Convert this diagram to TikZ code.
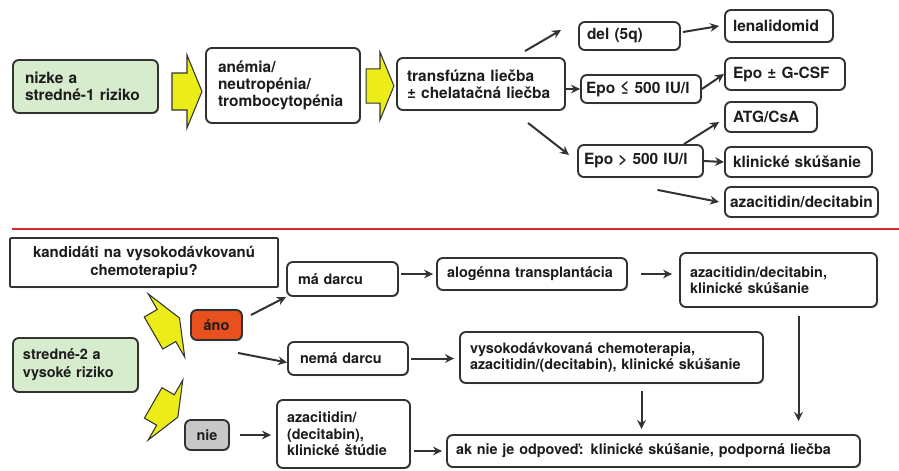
\documentclass[tikz,border=0pt]{standalone}
\usepackage{fontspec}
\setmainfont{Liberation Sans}
\newfontfamily\boxfont{texgyreheros-bold.otf}
\usetikzlibrary{arrows.meta,shadows}
\definecolor{riskgreen}{RGB}{214,236,205}
\definecolor{framegray}{RGB}{50,50,50}
\definecolor{textgray}{RGB}{28,28,28}
\definecolor{yesorange}{RGB}{232,80,30}
\definecolor{nogray}{RGB}{200,200,200}
\definecolor{splitred}{RGB}{212,42,42}
\definecolor{arrowyellow}{RGB}{236,236,24}
\newlength\pu
\setlength\pu{0.03cm}
\newcommand{\yarrow}[4]{%
  \filldraw[fill=arrowyellow, draw=framegray, line width=0.9pt, line join=miter,
    shift={(#1,#2)}, rotate=#3, scale=#4]
    (-15,-18.5) -- (0,-18.5) -- (0,-36.5) -- (15,0) -- (0,36.5) -- (0,18.5) -- (-15,18.5) -- cycle;}

\begin{document}
\begin{tikzpicture}[x=1\pu, y=-1\pu, every node/.style={font=\boxfont\fontsize{13.2}{14.5}\selectfont, text=textgray}]
  \tikzstyle{box}=[draw=framegray, line width=1.6pt, rounded corners=5pt, fill=white, align=left,
    inner xsep=8\pu, inner ysep=0pt, drop shadow={shadow xshift=1pt, shadow yshift=-1pt, opacity=0.35}]
  \tikzstyle{bbox}=[box, font=\boxfont\fontsize{12.3}{14}\selectfont]
  \tikzstyle{arr}=[-{Stealth[length=2.7mm, width=2.6mm]}, line width=1.7pt, draw=framegray]
  \useasboundingbox (0,0) rectangle (899,470);

  \node[box, fill=riskgreen, inner xsep=12\pu, text width=121\pu, minimum height=53\pu, font=\boxfont\fontsize{13.2}{15}\selectfont] (low) at (85.5,86.5) {nizke a\\stredné-1 riziko};
  \node[box, inner xsep=12\pu, text width=130\pu, minimum height=75\pu] (anemia) at (283,85.5) {anémia/\\neutropénia/\\trombocytopénia};
  \node[box, inner xsep=10\pu, text width=148\pu, minimum height=52\pu] (transf) at (481,84) {transfúzna liečba\\± chelatačná liečba};
  \node[box, text width=85\pu, minimum height=28\pu] (del) at (629.5,36) {del (5q)};
  \node[box, text width=92\pu, minimum height=32\pu] (lenal) at (779,26) {lenalidomid};
  \node[box, inner xsep=5\pu, text width=110\pu, minimum height=28\pu] (epole) at (641,89) {Epo ≤ 500 IU/l};
  \node[box, text width=104\pu, minimum height=32\pu] (epog) at (785,74) {Epo ± G-CSF};
  \node[box, text width=76\pu, minimum height=30\pu] (atg) at (771,117) {ATG/CsA};
  \node[box, inner xsep=6\pu, text width=113\pu, minimum height=32\pu] (epogt) at (640.5,161) {Epo > 500 IU/l};
  \node[box, text width=131\pu, minimum height=30\pu] (klin) at (798.5,162) {klinické skúšanie};
  \node[box, inner xsep=5\pu, text width=143\pu, minimum height=30\pu] (aza) at (801.5,202) {azacitidin/decitabin};

  \yarrow{187}{91.5}{0}{1}
  \yarrow{380}{86}{0}{0.93}

  \draw[arr] ([xshift=44\pu, yshift=6\pu]transf.north) -- ([xshift=-17\pu, yshift=6\pu]del.west);
  \draw[arr] (transf.east |- epole.west) -- (epole.west);
  \draw[arr] ([xshift=47\pu, yshift=-12\pu]transf.south) -- ([xshift=-8\pu, yshift=6\pu]epogt.west);
  \draw[arr] ([xshift=2\pu, yshift=4\pu]del.east) -- ([xshift=-5\pu]lenal.west);
  \draw[arr] (epole.east) -- (epog.west);
  \draw[arr] ([xshift=-20\pu]epogt.north east) -- ([xshift=-5\pu, yshift=-5\pu]atg.west);
  \draw[arr] (epogt.east) -- (klin.west);
  \draw[arr] ([xshift=17\pu, yshift=-12\pu]epogt.south) -- ([xshift=-5\pu]aza.west);

  \draw[splitred, line width=2.5pt] (12,229) -- (899,229);

  \node[bbox, rounded corners=1pt, align=center, text width=252\pu, minimum height=49\pu, font=\boxfont\fontsize{12.8}{15.5}\selectfont] (kand) at (144,262.5) {kandidáti na vysokodávkovanú\\chemoterapiu?};
  \node[bbox, inner xsep=11\pu, text width=89\pu, minimum height=34\pu] (ma) at (342.5,279) {má darcu};
  \node[bbox, fill=yesorange, align=center, text width=35\pu, minimum height=30\pu] (ano) at (216.5,325) {áno};
  \node[bbox, fill=riskgreen, inner xsep=10\pu, text width=105\pu, minimum height=54\pu, font=\boxfont\fontsize{12.3}{15.5}\selectfont] (high) at (75.5,365) {stredné-2 a\\vysoké riziko};
  \node[bbox, inner xsep=12\pu, text width=96\pu, minimum height=33\pu] (nema) at (348,358.5) {nemá darcu};
  \node[bbox, fill=nogray, align=center, text width=28\pu, minimum height=30\pu] (nie) at (207,435) {nie};
  \node[bbox, inner xsep=10\pu, text width=113\pu, minimum height=68\pu] (azad) at (343.5,434) {azacitidin/\\(decitabin),\\klinické štúdie};
  \node[bbox, inner xsep=10\pu, text width=170\pu, minimum height=32\pu] (alo) at (532,274) {alogénna transplantácia};
  \node[bbox, inner xsep=10\pu, text width=177\pu, minimum height=54\pu] (azak) at (778.5,280) {azacitidin/decitabin,\\klinické skúšanie};
  \node[bbox, inner xsep=10\pu, text width=283\pu, minimum height=51\pu] (vys) at (611.5,357.5) {vysokodávkovaná chemoterapia,\\azacitidin/(decitabin), klinické skúšanie};
  \node[bbox, inner xsep=9\pu, text width=395\pu, minimum height=32\pu] (ak) at (653.5,451) {ak nie je odpoveď: klinické skúšanie, podporná liečba};

  \yarrow{166.5}{325.5}{30}{1}
  \yarrow{165.5}{410}{-30}{0.95}

  \draw[arr] ([xshift=8\pu, yshift=10\pu]ano.east) -- (ma.south west);
  \draw[arr] ([xshift=-5\pu, yshift=-12\pu]ano.south east) -- ([yshift=-4\pu]nema.west);
  \draw[arr, shorten <=10\pu, shorten >=5\pu] (nie.east) -- (nie.east -| azad.west);
  \draw[arr, shorten <=2\pu, shorten >=3\pu] (ma.east |- alo.west) -- (alo.west);
  \draw[arr, shorten <=13\pu, shorten >=7\pu] (alo.east) -- (alo.east -| azak.west);
  \draw[arr, shorten <=2\pu, shorten >=5\pu] (nema.east) -- (nema.east -| vys.west);
  \draw[arr, shorten <=3\pu, shorten >=4\pu] (azad.east |- ak.west) -- (ak.west);
  \draw[arr, shorten <=7\pu, shorten >=5\pu] ([xshift=30\pu]vys.south) -- ([xshift=30\pu]vys.south |- ak.north);
  \draw[arr, shorten <=8\pu, shorten >=13\pu] ([xshift=20\pu]azak.south) -- ([xshift=20\pu]azak.south |- ak.north);
\end{tikzpicture}
\end{document}
